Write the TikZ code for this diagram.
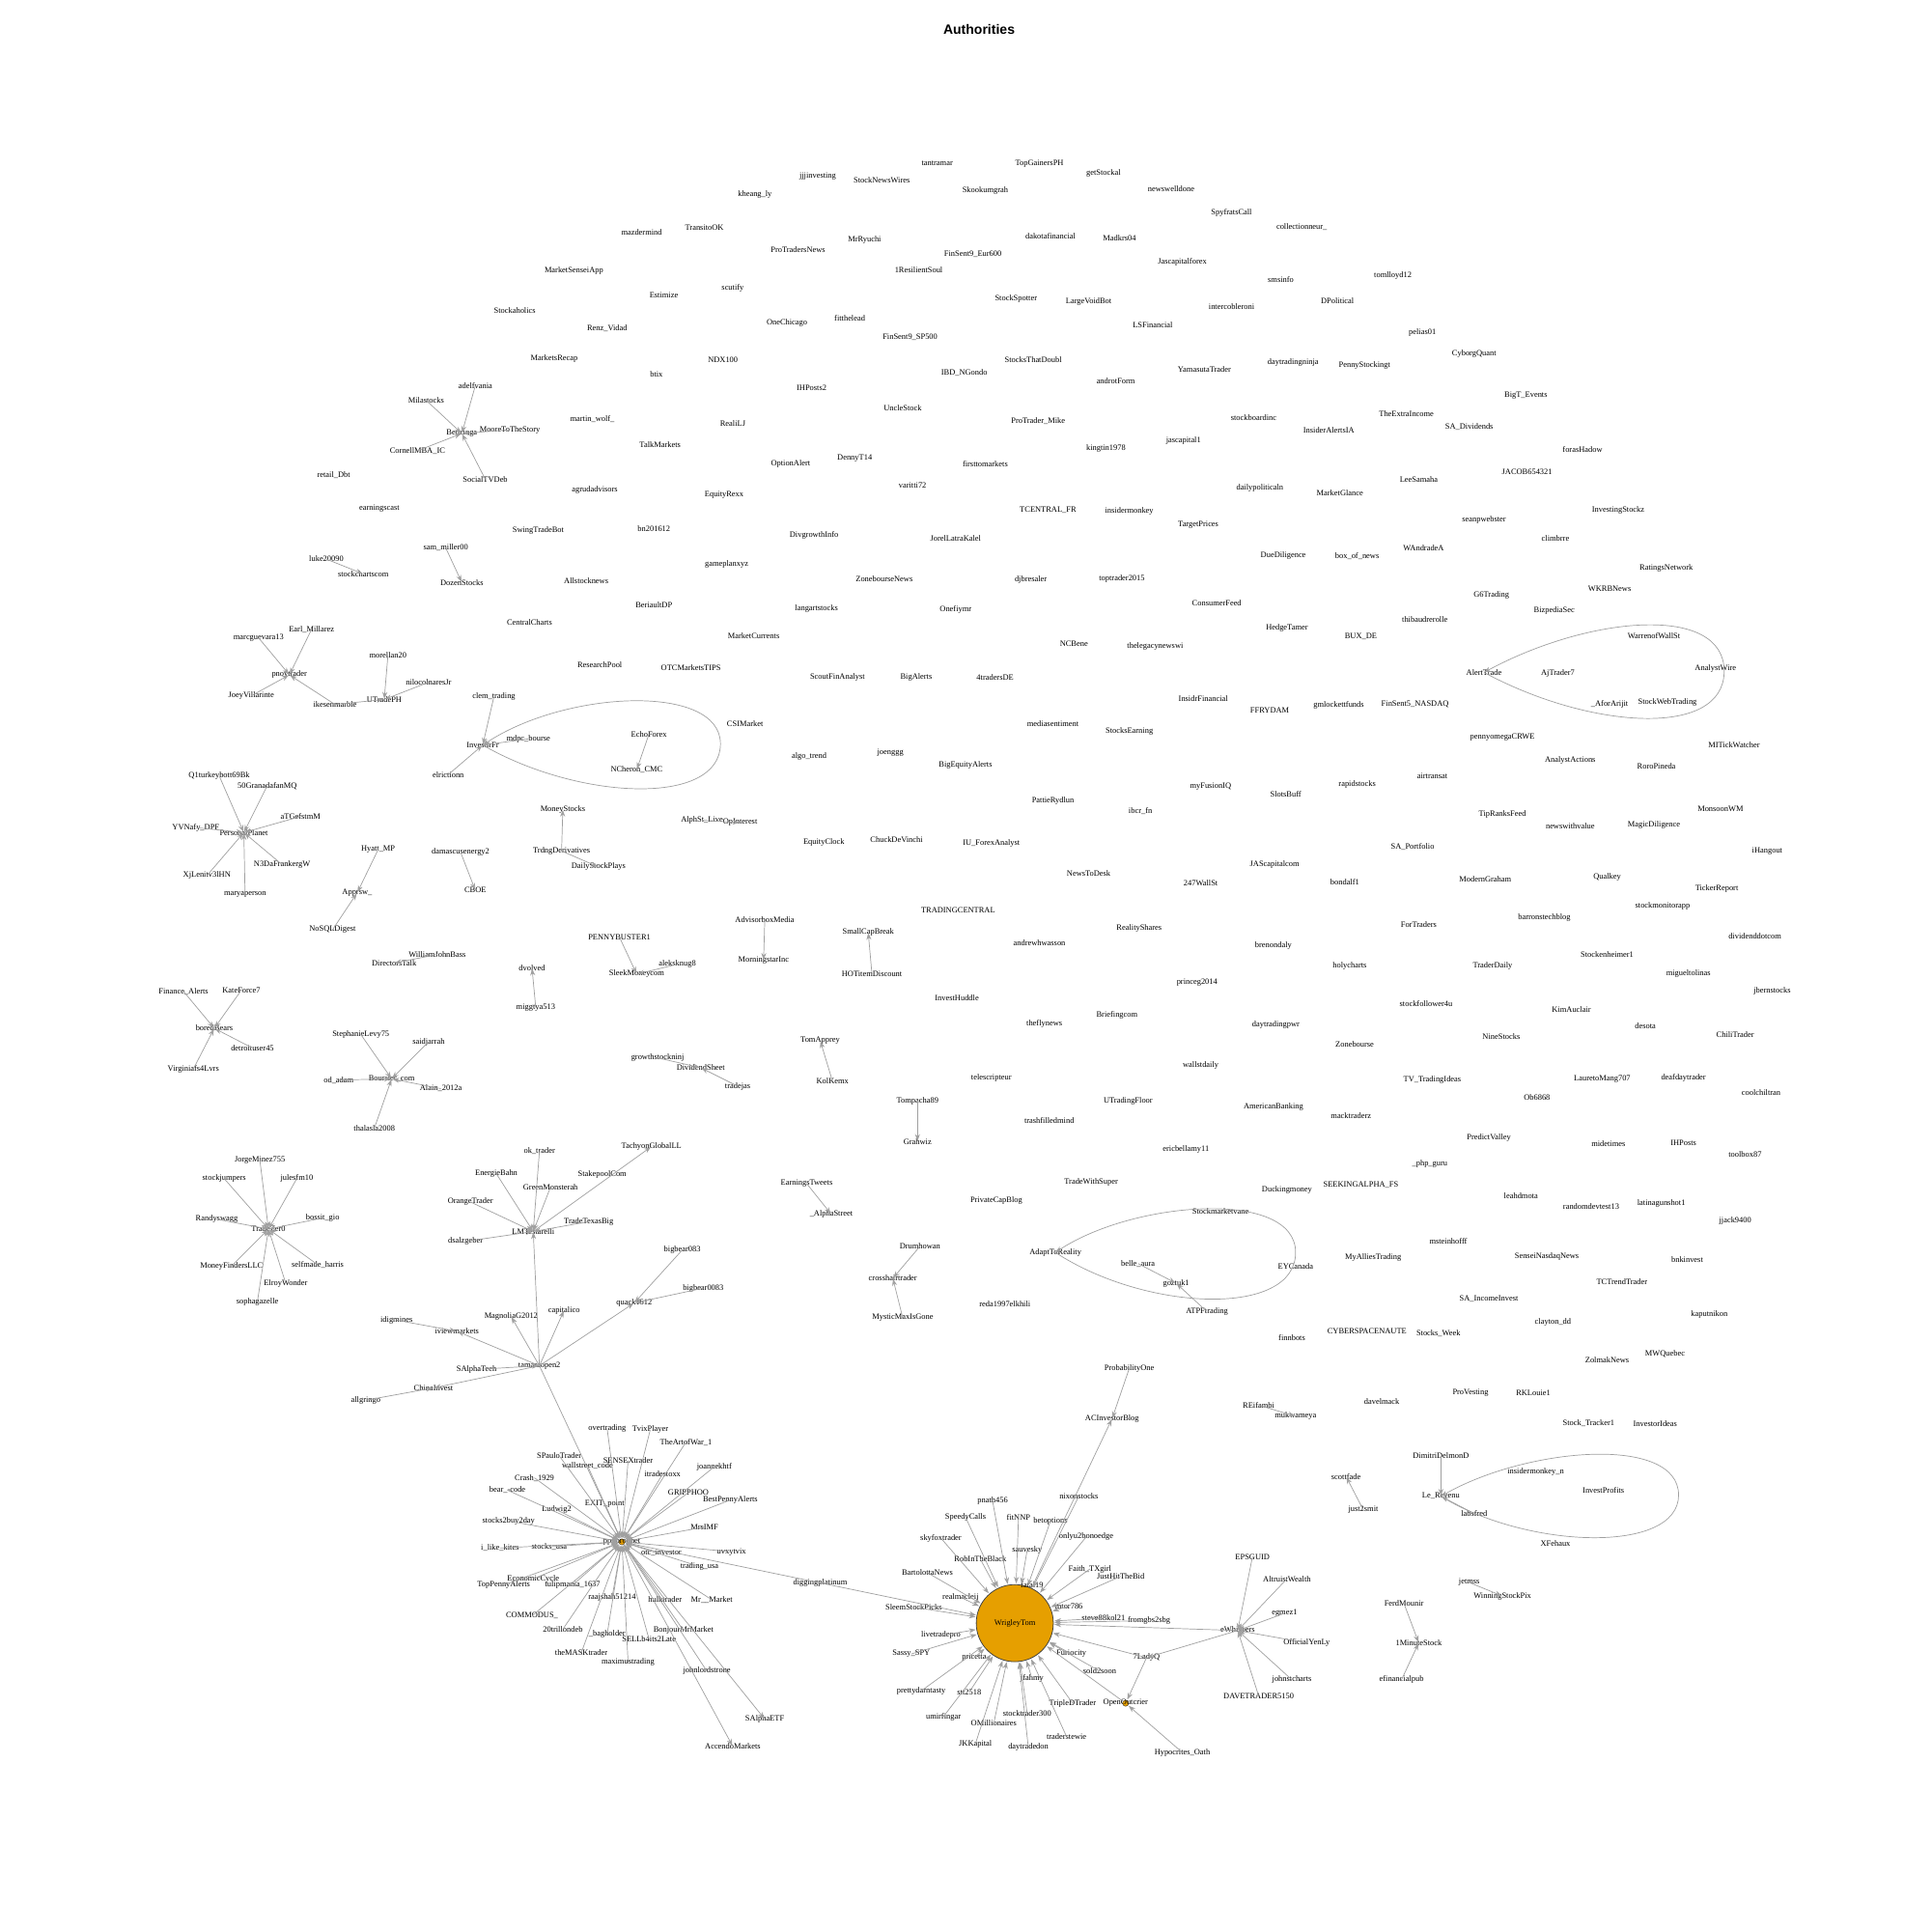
\documentclass[tikz,border=0pt]{standalone}
\usepackage{fontspec}
\setmainfont{Liberation Serif}
\newfontfamily\titlefam{Liberation Sans}
\usetikzlibrary{arrows.meta}
\definecolor{edgegray}{RGB}{160,160,160}
\definecolor{wrig}{RGB}{230,159,0}
\newcommand{\labfont}{\fontsize{6.6}{7}\selectfont}
\tikzset{
  lab/.style={font=\labfont, inner sep=0pt, text=black},
  conn/.style={draw=edgegray, line width=0.55pt, -{Stealth[length=5.5pt,width=4pt]}, shorten >=0.6pt},
  loopline/.style={draw=edgegray, line width=0.55pt, -{Stealth[length=5.5pt,width=4pt]}},
  hubdot/.style={circle, fill=wrig, draw=black!80, line width=0.3pt, minimum size=5pt, inner sep=0pt}
}
\newcommand{\gnode}[2]{\node[lab] (#1) at (#2) {\detokenize{#1}};}
\newcommand{\gedge}[2]{\draw[conn] (#1.center) -- (#2.center);}
\newcommand{\gedgeW}[1]{\draw[conn] (#1.center) -- (WrigleyTom);}
\newcommand{\gedgeP}[1]{\draw[conn] (#1.center) -- (pdot);}
\begin{document}
\begin{tikzpicture}[x=1pt,y=-1pt]
\useasboundingbox (0,0) rectangle (1568,1568);
\fill[white] (0,0) rectangle (1568,1568);
\node[font=\titlefam\bfseries\fontsize{11}{13}\selectfont] (title) at (795,24) {Authorities};
% big vertex
\node[circle, draw=black!75, fill=wrig, minimum size=62.6pt, inner sep=0pt, line width=0.6pt, font=\labfont] (WrigleyTom) at (824,1318) {WrigleyTom};
\node[hubdot] (pdot) at (505,1252) {};
\node[hubdot] (odot) at (914,1383) {};
% ---- top labels
\gnode{jjjinvesting}{664,143}
\gnode{StockNewsWires}{716,146}
\gnode{tantramar}{761,133}
\gnode{Skookumgrah}{800,155}
\gnode{kheang_ly}{613,158}
\gnode{mazdermind}{521,189}
\gnode{TransitoOK}{572,185}
\gnode{ProTradersNews}{648,203}
\gnode{MrRyuchi}{702,195}
\gnode{FinSent9_Eur600}{790,206}
\gnode{MarketSenseiApp}{466,220}
\gnode{1ResilientSoul}{746,219}
\gnode{Estimize}{539,240}
\gnode{scutify}{595,234}
\gnode{OneChicago}{639,262}
\gnode{fitthelead}{690,258}
\gnode{FinSent9_SP500}{739,274}
\gnode{Renz_Vidad}{493,267}
\gnode{NDX100}{587,292}
\gnode{btix}{533,304}
\gnode{IBD_NGondo}{783,303}
\gnode{IHPosts2}{659,315}
\gnode{UncleStock}{733,331}
\gnode{martin_wolf_}{481,340}
\gnode{RealiLJ}{595,344}
\gnode{TalkMarkets}{536,361}
\gnode{OptionAlert}{642,377}
\gnode{DennyT14}{694,372}
\gnode{firsttomarkets}{800,377}
\gnode{varitti72}{741,394}
\gnode{agrudadvisors}{483,398}
\gnode{EquityRexx}{588,402}
\gnode{bn201612}{531,429}
\gnode{DivgrowthInfo}{661,435}
\gnode{JorelLatraKalel}{776,437}
\gnode{gameplanxyz}{590,458}
\gnode{Allstocknews}{476,472}
\gnode{ZonebourseNews}{718,470}
\gnode{BeriaultDP}{531,491}
\gnode{langartstocks}{663,494}
\gnode{Onefiymr}{776,495}
\gnode{MarketCurrents}{612,516}
\gnode{ResearchPool}{487,540}
\gnode{OTCMarketsTIPS}{561,542}
\gnode{ScoutFinAnalyst}{680,550}
\gnode{BigAlerts}{744,550}
\gnode{4tradersDE}{808,550}
\gnode{TopGainersPH}{844,133}
\gnode{getStockal}{896,141}
\gnode{newswelldone}{951,153}
\gnode{SpyfratsCall}{1000,173}
\gnode{collectionneur_}{1057,184}
\gnode{dakotafinancial}{853,192}
\gnode{Madkrs04}{909,193}
\gnode{Jascapitalforex}{960,213}
\gnode{smsinfo}{1040,227}
\gnode{StockSpotter}{825,243}
\gnode{LargeVoidBot}{884,245}
\gnode{intercobleroni}{1000,249}
\gnode{DPolitical}{1086,244}
\gnode{LSFinancial}{936,264}
\gnode{StocksThatDoubl}{839,292}
\gnode{androtForm}{906,309}
\gnode{YamasutaTrader}{978,300}
\gnode{daytradingninja}{1050,294}
\gnode{PennyStockingt}{1108,297}
\gnode{ProTrader_Mike}{843,342}
\gnode{stockboardinc}{1018,339}
\gnode{InsiderAlertsIA}{1079,349}
\gnode{jascapital1}{961,358}
\gnode{kingtin1978}{898,364}
\gnode{dailypoliticaln}{1023,396}
\gnode{MarketGlance}{1088,400}
\gnode{TCENTRAL_FR}{851,414}
\gnode{insidermonkey}{917,415}
\gnode{TargetPrices}{973,426}
\gnode{DueDiligence}{1042,451}
\gnode{box_of_news}{1102,452}
\gnode{djbresaler}{837,471}
\gnode{toptrader2015}{911,470}
\gnode{ConsumerFeed}{988,490}
\gnode{HedgeTamer}{1045,510}
\gnode{BUX_DE}{1105,517}
\gnode{NCBene}{872,523}
\gnode{thelegacynewswi}{938,525}
\gnode{tomlloyd12}{1131,224}
\gnode{pelias01}{1155,270}
\gnode{CyborgQuant}{1197,287}
\gnode{BigT_Events}{1239,321}
\gnode{TheExtraIncome}{1142,336}
\gnode{SA_Dividends}{1193,347}
\gnode{forasHadow}{1285,365}
\gnode{JACOB654321}{1240,383}
\gnode{LeeSamaha}{1152,389}
\gnode{InvestingStockz}{1314,414}
\gnode{seanpwebster}{1205,422}
\gnode{climbrre}{1263,437}
\gnode{WAndradeA}{1156,445}
\gnode{RatingsNetwork}{1353,461}
\gnode{WKRBNews}{1307,478}
\gnode{G6Trading}{1211,483}
\gnode{BizpediaSec}{1262,496}
\gnode{thibaudrerolle}{1157,503}
\gnode{WarrenofWallSt}{1343,516}
\gnode{AlertTrade}{1205,546}
\gnode{AjTrader7}{1265,547}
\gnode{AnalystWire}{1393,543}
\gnode{_AforArijit}{1307,572}
\gnode{StockWebTrading}{1354,570}
\gnode{MarketsRecap}{450,291}
\gnode{Stockaholics}{418,252}
% ---- left
\gnode{adelfvania}{386,313}
\gnode{Milastocks}{346,325}
\gnode{MooreToTheStory}{414,349}
\gnode{Benzinga}{375,352}
\gnode{CornellMBA_IC}{339,366}
\gnode{retail_Dbt}{271,386}
\gnode{SocialTVDeb}{394,389}
\gnode{earningscast}{308,413}
\gnode{SwingTradeBot}{437,431}
\gnode{sam_miller00}{362,445}
\gnode{luke20090}{265,454}
\gnode{stockchartscom}{295,466}
\gnode{DozenStocks}{375,473}
\gnode{CentralCharts}{430,505}
\gnode{Earl_Millarez}{253,511}
\gnode{marcguevara13}{210,518}
\gnode{morellan20}{315,532}
\gnode{pnoytrader}{235,548}
\gnode{nilocolnaresJr}{348,554}
\gnode{JoeyVillarinte}{204,565}
\gnode{ikesenmarble}{272,572}
\gnode{UTradePH}{312,568}
\gnode{clem_trading}{401,566}
\gnode{InvestirFr}{392,605}
\gnode{mdpc_bourse}{429,600}
\gnode{elrictionn}{364,629}
\gnode{EchoForex}{527,596}
\gnode{NCheron_CMC}{517,625}
\gnode{CSIMarket}{605,588}
\gnode{algo_trend}{657,614}
\gnode{joenggg}{723,611}
\gnode{BigEquityAlerts}{784,621}
\gnode{Q1turkeybott69Bk}{178,630}
\gnode{50GranadafanMQ}{217,638}
\gnode{aTGefstmM}{244,663}
\gnode{YVNafy_DPF}{159,672}
\gnode{PersonalPlanet}{198,676}
\gnode{N3DaFrankergW}{229,702}
\gnode{XjLenitv3lHN}{168,711}
\gnode{maryaperson}{199,726}
\gnode{Hyatt_MP}{307,690}
\gnode{Apprsw_}{290,725}
\gnode{NoSQLDigest}{270,755}
\gnode{damascusenergy2}{374,692}
\gnode{CBOE}{386,723}
\gnode{MoneyStocks}{457,657}
\gnode{TrdngDerivatives}{456,691}
\gnode{DailyStockPlays}{486,704}
\gnode{AlphSt_Live}{570,666}
\gnode{OpInterest}{601,668}
\gnode{EquityClock}{669,684}
\gnode{ChuckDeVinchi}{728,682}
\gnode{IU_ForexAnalyst}{805,685}
\gnode{TRADINGCENTRAL}{778,739}
\gnode{AdvisorboxMedia}{621,747}
\gnode{PENNYBUSTER1}{503,761}
\gnode{SmallCapBreak}{705,757}
\gnode{MorningstarInc}{620,780}
\gnode{aleksknug8}{550,783}
\gnode{SleekMoneycom}{517,791}
\gnode{HOTitemDiscount}{708,791}
\gnode{InvestHuddle}{777,810}
\gnode{DirectorsTalk}{320,782}
\gnode{WilliamJohnBass}{355,775}
\gnode{dvolved}{432,786}
\gnode{miggtya513}{435,818}
\gnode{Finance_Alerts}{149,805}
\gnode{KateForce7}{196,804}
\gnode{boredBears}{174,835}
\gnode{detroituser45}{205,851}
\gnode{Virginiafs4Lvrs}{157,868}
\gnode{StephanieLevy75}{293,840}
\gnode{saidjarrah}{348,846}
\gnode{od_adam}{275,877}
\gnode{Boursier_com}{318,876}
\gnode{Alain_2012a}{358,884}
\gnode{thalasla2008}{304,916}
\gnode{TomApprey}{666,845}
\gnode{growthstockninj}{534,859}
\gnode{DividendSheet}{569,867}
\gnode{tradejas}{599,882}
\gnode{KolKemx}{676,878}
\gnode{telescripteur}{805,875}
\gnode{Tompacha89}{745,894}
\gnode{Grahwiz}{745,927}
\gnode{TachyonGlobalLL}{529,931}
\gnode{StakepoolCom}{489,954}
\gnode{EarningsTweets}{655,961}
\gnode{PrivateCapBlog}{809,975}
\gnode{_AlphaStreet}{675,986}
\gnode{TradeTexasBig}{478,992}
\gnode{JorgeMinez755}{211,942}
\gnode{stockjumpers}{182,957}
\gnode{julesfm10}{241,957}
\gnode{Randyswagg}{176,990}
\gnode{bossit_gio}{262,989}
\gnode{TradeZer0}{218,998}
\gnode{MoneyFindersLLC}{188,1028}
\gnode{selfmade_harris}{258,1027}
\gnode{ElroyWonder}{232,1042}
\gnode{sophagazelle}{209,1057}
\gnode{ok_trader}{438,935}
\gnode{EnergieBahn}{403,953}
\gnode{GreenMonsterah}{447,964}
\gnode{OrangeTrader}{382,976}
\gnode{LMTestarelli}{433,1000}
\gnode{dsalzgeber}{378,1008}
\gnode{MagnoliaG2012}{415,1069}
\gnode{capitalico}{458,1064}
\gnode{idigmines}{322,1072}
\gnode{iviewmarkets}{371,1081}
\gnode{tamaraopen2}{438,1109}
\gnode{SAlphaTech}{387,1112}
\gnode{ChinaInvest}{352,1127}
\gnode{allgringo}{297,1137}
\gnode{bigbear083}{554,1015}
\gnode{bigbear0083}{571,1046}
\gnode{quack1612}{515,1058}
\gnode{Drumhowan}{747,1012}
\gnode{crosshairtrader}{725,1038}
\gnode{MysticMaxIsGone}{733,1070}
% ---- pppprophet cluster
\gnode{overtrading}{493,1160}
\gnode{TvixPlayer}{528,1161}
\gnode{TheArtofWar_1}{557,1171}
\gnode{SPauloTrader}{454,1182}
\gnode{SENSEXtrader}{510,1186}
\gnode{wallstreet_code}{477,1190}
\gnode{joannekhtf}{580,1191}
\gnode{itradestoxx}{538,1197}
\gnode{Crash_1929}{434,1200}
\gnode{bear_-code}{412,1210}
\gnode{GRIPPHOO}{559,1212}
\gnode{BestPennyAlerts}{593,1218}
\gnode{EXIT_point}{491,1221}
\gnode{Ludwig2}{452,1226}
\gnode{stocks2buy2day}{413,1235}
\gnode{MrsIMF}{572,1240}
\gnode{pppprophet}{505,1252}
\gnode{i_like_kites}{406,1257}
\gnode{stocks_usa}{446,1256}
\gnode{otc_investor}{537,1261}
\gnode{uvxytvix}{594,1260}
\gnode{trading_usa}{568,1272}
\gnode{EconomicCycle}{433,1282}
\gnode{TopPennyAlerts}{409,1287}
\gnode{tulipmania_1637}{465,1287}
\gnode{diggingplatinum}{666,1285}
\gnode{raajshah51214}{497,1297}
\gnode{hulktrader}{540,1299}
\gnode{Mr__Market}{578,1299}
\gnode{COMMODUS_}{432,1312}
\gnode{20trillondeb}{457,1323}
\gnode{BonjourMrMarket}{555,1324}
\gnode{_bagholder}{493,1327}
\gnode{SELLb4its2Late}{527,1331}
\gnode{theMASKtrader}{472,1342}
\gnode{maximustrading}{510,1350}
\gnode{johnlordstrone}{574,1357}
\gnode{SAlphaETF}{621,1396}
\gnode{AccendoMarkets}{595,1418}
% ---- WrigleyTom cluster
\gnode{ProbabilityOne}{917,1111}
\gnode{ACInvestorBlog}{903,1152}
\gnode{nixonstocks}{876,1215}
\gnode{pnath456}{806,1219}
\gnode{SpeedyCalls}{784,1232}
\gnode{fitNNP}{827,1232}
\gnode{betoptions}{853,1235}
\gnode{skyfoxtrader}{764,1249}
\gnode{onlyu2bonoedge}{882,1248}
\gnode{sauvesky}{834,1259}
\gnode{RobInTheBlack}{796,1266}
\gnode{BartolottaNews}{753,1277}
\gnode{Faith_TXgirl}{885,1274}
\gnode{JustHitTheBid}{910,1280}
\gnode{fatal19}{838,1287}
\gnode{realmacleij}{780,1297}
\gnode{SleemStockPicks}{742,1305}
\gnode{mtor786}{868,1304}
\gnode{steve88kol21}{896,1314}
\gnode{fromgbs2sbg}{933,1316}
\gnode{livetradepro}{764,1328}
\gnode{7LadyQ}{931,1346}
\gnode{Sassy_SPY}{740,1343}
\gnode{pricetta}{791,1346}
\gnode{Furiocity}{870,1343}
\gnode{sold2soon}{893,1357}
\gnode{jfahmy}{838,1363}
\gnode{prettydarntasty}{748,1373}
\gnode{stt2518}{787,1374}
\gnode{TripleDTrader}{871,1383}
\gnode{OpenOutcrier}{914,1383}
\gnode{stocktrader300}{834,1391}
\gnode{umirfingar}{766,1394}
\gnode{OMillionaires}{807,1399}
\gnode{traderstewie}{866,1410}
\gnode{JKKapital}{792,1416}
\gnode{daytradedon}{835,1419}
\gnode{Hypocrites_Oath}{960,1423}
\gnode{eWhispers}{1005,1324}
\gnode{EPSGUID}{1017,1264}
\gnode{AltruistWealth}{1045,1282}
\gnode{egmez1}{1043,1310}
\gnode{OfficialYenLy}{1061,1334}
\gnode{johnstcharts}{1049,1364}
\gnode{DAVETRADER5150}{1022,1377}
% ---- middle right
\gnode{InsidrFinancial}{977,567}
\gnode{FFRYDAM}{1031,577}
\gnode{gmlockettfunds}{1087,573}
\gnode{FinSent5_NASDAQ}{1149,572}
\gnode{mediasentiment}{855,588}
\gnode{StocksEarning}{917,594}
\gnode{myFusionIQ}{983,639}
\gnode{SlotsBuff}{1044,645}
\gnode{rapidstocks}{1102,637}
\gnode{PattieRydlun}{855,650}
\gnode{ibcr_fn}{926,659}
\gnode{NewsToDesk}{884,709}
\gnode{247WallSt}{975,717}
\gnode{JAScapitalcom}{1035,702}
\gnode{bondalf1}{1092,716}
\gnode{SA_Portfolio}{1147,688}
\gnode{RealityShares}{925,754}
\gnode{andrewhwasson}{844,766}
\gnode{brenondaly}{1034,768}
\gnode{holycharts}{1096,784}
\gnode{princeg2014}{972,798}
\gnode{Briefingcom}{907,824}
\gnode{theflynews}{848,831}
\gnode{daytradingpwr}{1036,832}
\gnode{Zonebourse}{1100,848}
\gnode{wallstdaily}{975,865}
\gnode{UTradingFloor}{916,894}
\gnode{AmericanBanking}{1034,899}
\gnode{trashfilledmind}{852,910}
\gnode{macktraderz}{1097,906}
\gnode{ericbellamy11}{963,933}
\gnode{TradeWithSuper}{886,960}
\gnode{Duckingmoney}{1045,966}
\gnode{SEEKINGALPHA_FS}{1105,962}
\gnode{Stockmarketvane}{991,984}
\gnode{pennyomegaCRWE}{1220,599}
\gnode{AnalystActions}{1275,617}
\gnode{RoroPineda}{1345,622}
\gnode{MITickWatcher}{1408,605}
\gnode{airtransat}{1163,630}
\gnode{TipRanksFeed}{1220,661}
\gnode{newswithvalue}{1275,671}
\gnode{MagicDiligence}{1343,670}
\gnode{MonsoonWM}{1397,657}
\gnode{iHangout}{1435,691}
\gnode{ModernGraham}{1206,714}
\gnode{Qualkey}{1305,712}
\gnode{TickerReport}{1394,722}
\gnode{stockmonitorapp}{1350,736}
\gnode{barronstechblog}{1254,745}
\gnode{ForTraders}{1152,751}
\gnode{dividenddotcom}{1425,760}
\gnode{Stockenheimer1}{1305,775}
\gnode{TraderDaily}{1212,784}
\gnode{migueltolinas}{1371,791}
\gnode{jbernstocks}{1439,805}
\gnode{stockfollower4u}{1158,815}
\gnode{KimAuclair}{1276,820}
\gnode{desota}{1336,833}
\gnode{ChiliTrader}{1409,840}
\gnode{NineStocks}{1219,842}
\gnode{TV_TradingIdeas}{1163,877}
\gnode{LauretoMang707}{1301,876}
\gnode{deafdaytrader}{1367,875}
\gnode{coolchiltran}{1430,887}
\gnode{Ob6868}{1248,891}
\gnode{PredictValley}{1209,924}
\gnode{midetimes}{1306,929}
\gnode{IHPosts}{1367,928}
\gnode{toolbox87}{1417,937}
\gnode{_php_guru}{1161,945}
\gnode{leahdmota}{1235,971}
\gnode{randomdevtest13}{1292,980}
\gnode{latinagunshot1}{1349,977}
\gnode{jjack9400}{1409,991}
% ---- bottom right
\gnode{AdaptToReality}{857,1017}
\gnode{belle_aura}{924,1026}
\gnode{EYCanada}{1052,1028}
\gnode{MyAlliesTrading}{1115,1021}
\gnode{goztuk1}{955,1042}
\gnode{reda1997elkhili}{816,1059}
\gnode{ATPFtrading}{980,1065}
\gnode{CYBERSPACENAUTE}{1110,1081}
\gnode{finnbots}{1049,1086}
\gnode{msteinhofff}{1176,1008}
\gnode{SenseiNasdaqNews}{1256,1020}
\gnode{bnkinvest}{1370,1023}
\gnode{TCTrendTrader}{1317,1041}
\gnode{SA_IncomeInvest}{1209,1055}
\gnode{kaputnikon}{1388,1067}
\gnode{clayton_dd}{1261,1074}
\gnode{Stocks_Week}{1168,1083}
\gnode{ZolmakNews}{1305,1104}
\gnode{MWQuebec}{1352,1099}
\gnode{ProVesting}{1194,1131}
\gnode{RKLouie1}{1245,1131}
\gnode{Stock_Tracker1}{1290,1156}
\gnode{InvestorIdeas}{1344,1156}
\gnode{REifambi}{1022,1141}
\gnode{davelmack}{1122,1138}
\gnode{mukwameya}{1052,1150}
\gnode{scottfade}{1093,1199}
\gnode{just2smit}{1107,1226}
\gnode{DimitriDelmonD}{1170,1182}
\gnode{insidermonkey_n}{1247,1195}
\gnode{Le_Revenu}{1170,1215}
\gnode{InvestProfits}{1302,1210}
\gnode{labsfred}{1197,1229}
\gnode{XFehaux}{1263,1253}
\gnode{jetmss}{1193,1285}
\gnode{WinningStockPix}{1220,1296}
\gnode{FerdMounir}{1140,1302}
\gnode{1MinuteStock}{1152,1334}
\gnode{efinancialpub}{1138,1364}
% ================= edges
\gedge{Milastocks}{Benzinga}
\gedge{adelfvania}{Benzinga}
\gedge{CornellMBA_IC}{Benzinga}
\gedge{SocialTVDeb}{Benzinga}
\gedge{MooreToTheStory}{Benzinga}
\gedge{sam_miller00}{DozenStocks}
\gedge{luke20090}{stockchartscom}
\gedge{marcguevara13}{pnoytrader}
\gedge{Earl_Millarez}{pnoytrader}
\gedge{JoeyVillarinte}{pnoytrader}
\gedge{ikesenmarble}{pnoytrader}
\gedge{morellan20}{UTradePH}
\gedge{nilocolnaresJr}{UTradePH}
\gedge{ikesenmarble}{UTradePH}
\gedge{clem_trading}{InvestirFr}
\gedge{mdpc_bourse}{InvestirFr}
\gedge{elrictionn}{InvestirFr}
\gedge{EchoForex}{NCheron_CMC}
\gedge{Q1turkeybott69Bk}{PersonalPlanet}
\gedge{50GranadafanMQ}{PersonalPlanet}
\gedge{aTGefstmM}{PersonalPlanet}
\gedge{YVNafy_DPF}{PersonalPlanet}
\gedge{N3DaFrankergW}{PersonalPlanet}
\gedge{XjLenitv3lHN}{PersonalPlanet}
\gedge{maryaperson}{PersonalPlanet}
\gedge{Hyatt_MP}{Apprsw_}
\gedge{NoSQLDigest}{Apprsw_}
\gedge{damascusenergy2}{CBOE}
\gedge{TrdngDerivatives}{MoneyStocks}
\gedge{TrdngDerivatives}{DailyStockPlays}
\gedge{WilliamJohnBass}{DirectorsTalk}
\gedge{miggtya513}{dvolved}
\gedge{Finance_Alerts}{boredBears}
\gedge{KateForce7}{boredBears}
\gedge{detroituser45}{boredBears}
\gedge{Virginiafs4Lvrs}{boredBears}
\gedge{StephanieLevy75}{Boursier_com}
\gedge{saidjarrah}{Boursier_com}
\gedge{od_adam}{Boursier_com}
\gedge{Alain_2012a}{Boursier_com}
\gedge{thalasla2008}{Boursier_com}
\gedge{JorgeMinez755}{TradeZer0}
\gedge{stockjumpers}{TradeZer0}
\gedge{julesfm10}{TradeZer0}
\gedge{Randyswagg}{TradeZer0}
\gedge{bossit_gio}{TradeZer0}
\gedge{MoneyFindersLLC}{TradeZer0}
\gedge{selfmade_harris}{TradeZer0}
\gedge{ElroyWonder}{TradeZer0}
\gedge{sophagazelle}{TradeZer0}
\gedge{ok_trader}{LMTestarelli}
\gedge{EnergieBahn}{LMTestarelli}
\gedge{GreenMonsterah}{LMTestarelli}
\gedge{OrangeTrader}{LMTestarelli}
\gedge{TradeTexasBig}{LMTestarelli}
\gedge{dsalzgeber}{LMTestarelli}
\gedge{LMTestarelli}{TachyonGlobalLL}
\gedge{tamaraopen2}{LMTestarelli}
\gedge{tamaraopen2}{MagnoliaG2012}
\gedge{tamaraopen2}{capitalico}
\gedge{tamaraopen2}{iviewmarkets}
\gedge{idigmines}{iviewmarkets}
\gedge{SAlphaTech}{tamaraopen2}
\gedge{tamaraopen2}{ChinaInvest}
\gedge{allgringo}{ChinaInvest}
\gedge{tamaraopen2}{quack1612}
\gedge{bigbear083}{quack1612}
\gedge{bigbear0083}{quack1612}
\gedgeP{tamaraopen2}
\gedge{Drumhowan}{crosshairtrader}
\gedge{MysticMaxIsGone}{crosshairtrader}
\gedge{PENNYBUSTER1}{SleekMoneycom}
\gedge{aleksknug8}{SleekMoneycom}
\gedge{AdvisorboxMedia}{MorningstarInc}
\gedge{HOTitemDiscount}{SmallCapBreak}
\gedge{AlphSt_Live}{OpInterest}
\gedge{growthstockninj}{DividendSheet}
\gedge{tradejas}{DividendSheet}
\gedge{KolKemx}{TomApprey}
\gedge{Tompacha89}{Grahwiz}
\gedge{EarningsTweets}{_AlphaStreet}
\gedge{belle_aura}{goztuk1}
\gedge{ATPFtrading}{goztuk1}
\gedge{DimitriDelmonD}{Le_Revenu}
\gedge{labsfred}{Le_Revenu}
\gedge{just2smit}{scottfade}
\gedge{jetmss}{WinningStockPix}
\gedge{FerdMounir}{1MinuteStock}
\gedge{efinancialpub}{1MinuteStock}
\gedge{REifambi}{mukwameya}
\gedge{ProbabilityOne}{ACInvestorBlog}
\draw[conn] (WrigleyTom) -- (ACInvestorBlog.center);
\gedgeW{nixonstocks}
\gedge{EPSGUID}{eWhispers}
\gedge{AltruistWealth}{eWhispers}
\gedge{egmez1}{eWhispers}
\gedge{OfficialYenLy}{eWhispers}
\gedge{johnstcharts}{eWhispers}
\gedge{DAVETRADER5150}{eWhispers}
\gedgeW{eWhispers}
\gedge{eWhispers}{7LadyQ}
\gedgeW{7LadyQ}
\draw[conn] (7LadyQ.center) -- (odot);
\draw[conn] (Hypocrites_Oath.center) -- (odot);
\draw[conn] (odot) -- (WrigleyTom);
% into WrigleyTom
\gedgeW{pnath456}
\gedgeW{SpeedyCalls}
\gedgeW{fitNNP}
\gedgeW{betoptions}
\gedgeW{skyfoxtrader}
\gedgeW{onlyu2bonoedge}
\gedgeW{sauvesky}
\gedgeW{RobInTheBlack}
\gedgeW{BartolottaNews}
\gedgeW{Faith_TXgirl}
\gedgeW{JustHitTheBid}
\gedgeW{realmacleij}
\gedgeW{SleemStockPicks}
\gedgeW{mtor786}
\gedgeW{steve88kol21}
\gedgeW{fromgbs2sbg}
\gedgeW{livetradepro}
\gedgeW{Sassy_SPY}
\gedgeW{pricetta}
\gedgeW{Furiocity}
\gedgeW{sold2soon}
\gedgeW{jfahmy}
\gedgeW{prettydarntasty}
\gedgeW{stt2518}
\gedgeW{TripleDTrader}
\gedgeW{stocktrader300}
\gedgeW{OMillionaires}
\gedgeW{umirfingar}
\gedgeW{traderstewie}
\gedgeW{JKKapital}
\gedgeW{daytradedon}
\draw[conn] (pdot) -- (WrigleyTom);
% into pppprophet
\gedgeP{overtrading}
\gedgeP{TvixPlayer}
\gedgeP{TheArtofWar_1}
\gedgeP{SPauloTrader}
\gedgeP{SENSEXtrader}
\gedgeP{wallstreet_code}
\gedgeP{joannekhtf}
\gedgeP{itradestoxx}
\gedgeP{Crash_1929}
\gedgeP{bear_-code}
\gedgeP{GRIPPHOO}
\gedgeP{BestPennyAlerts}
\gedgeP{EXIT_point}
\gedgeP{Ludwig2}
\gedgeP{stocks2buy2day}
\gedgeP{MrsIMF}
\gedgeP{i_like_kites}
\gedgeP{stocks_usa}
\gedgeP{otc_investor}
\gedgeP{uvxytvix}
\gedgeP{trading_usa}
\gedgeP{EconomicCycle}
\gedgeP{TopPennyAlerts}
\gedgeP{tulipmania_1637}
\gedgeP{raajshah51214}
\gedgeP{hulktrader}
\gedgeP{Mr__Market}
\gedgeP{COMMODUS_}
\gedgeP{20trillondeb}
\gedgeP{_bagholder}
\gedgeP{SELLb4its2Late}
\gedgeP{theMASKtrader}
\gedgeP{maximustrading}
\gedgeP{johnlordstrone}
\gedgeP{BonjourMrMarket}
\draw[conn] (pdot) -- (SAlphaETF.center);
\draw[conn] (pdot) -- (AccendoMarkets.center);
% self loops
\draw[loopline] (AlertTrade.center) .. controls (1290,592) and (1400,600) .. (1400,545) .. controls (1400,490) and (1290,500) .. (AlertTrade.center);
\draw[loopline] (InvestirFr.center) .. controls (470,650) and (585,655) .. (585,604) .. controls (585,555) and (460,560) .. (InvestirFr.center);
\draw[loopline] (AdaptToReality.center) .. controls (930,1065) and (1052,1070) .. (1052,1017) .. controls (1052,965) and (920,975) .. (AdaptToReality.center);
\draw[loopline] (Le_Revenu.center) .. controls (1240,1258) and (1363,1262) .. (1363,1214) .. controls (1363,1165) and (1240,1175) .. (Le_Revenu.center);
\end{tikzpicture}
\end{document}
